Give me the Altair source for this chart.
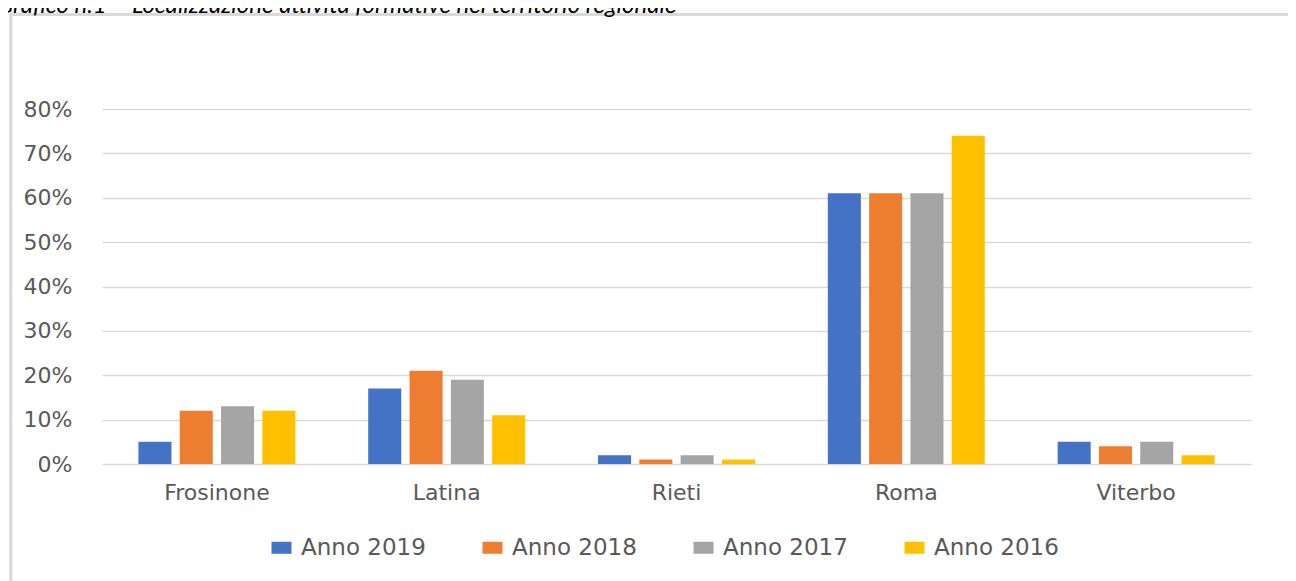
import altair as alt
import pandas as pd

provinces = ["Frosinone", "Latina", "Rieti", "Roma", "Viterbo"]
series = ["Anno 2019", "Anno 2018", "Anno 2017", "Anno 2016"]
anno_2019 = [0.05, 0.17, 0.02, 0.61, 0.05]
anno_2018 = [0.12, 0.21, 0.01, 0.61, 0.04]
anno_2017 = [0.13, 0.19, 0.02, 0.61, 0.05]
anno_2016 = [0.12, 0.11, 0.01, 0.74, 0.02]
colors = ["#4472C4", "#ED7D31", "#A5A5A5", "#FFC000"]
y_ticks = [0.0, 0.1, 0.2, 0.3, 0.4, 0.5, 0.6, 0.7, 0.8]
title_text = "Grafico n.1 – Localizzazione attività formative nel territorio regionale"

rows = []
for s, vals in zip(series, [anno_2019, anno_2018, anno_2017, anno_2016]):
    for p, v in zip(provinces, vals):
        rows.append({"Provincia": p, "Serie": s, "Valore": v})
df = pd.DataFrame(rows)

one = pd.DataFrame({"t": [title_text]})

bars = alt.Chart(df).mark_bar().encode(
    x=alt.X("Provincia:N", sort=provinces, title=None,
            scale=alt.Scale(paddingInner=0.317, paddingOuter=0.1585),
            axis=alt.Axis(labelAngle=0, ticks=False, domain=False, labelFontSize=22,
                          labelColor="#595959", labelFont="DejaVu Sans", labelPadding=18)),
    xOffset=alt.XOffset("Serie:N", sort=series,
                        scale=alt.Scale(paddingInner=0.2, paddingOuter=0)),
    y=alt.Y("Valore:Q", title=None,
            scale=alt.Scale(domain=[0, 0.8], nice=False),
            axis=alt.Axis(values=y_ticks, format=".0%", ticks=False, domain=False,
                          labelFontSize=22, labelColor="#595959", labelFont="DejaVu Sans",
                          labelPadding=30, gridColor="#d9d9d9", gridWidth=1.5)),
    color=alt.Color("Serie:N", sort=series,
                    scale=alt.Scale(domain=series, range=colors),
                    legend=alt.Legend(title=None, orient="none", direction="horizontal",
                                      legendX=168, legendY=427,
                                      symbolType="M-1,-0.6H1V0.6H-1Z", symbolSize=400,
                                      symbolStrokeWidth=0, labelFontSize=23,
                                      labelFont="DejaVu Sans", labelColor="#595959",
                                      labelOffset=8, columnPadding=55)),
)

frame = alt.Chart(one).mark_rect(fill="transparent", stroke="#d9d9d9", strokeWidth=3).encode(
    x=alt.value(-91.2), x2=alt.value(1300), y=alt.value(-94.5), y2=alt.value(700)
)

title = alt.Chart(one).mark_text(align="left", baseline="alphabetic", font="Lato",
                                 fontStyle="italic", fontSize=24, color="#000000").encode(
    x=alt.value(-105), y=alt.value(-96), text="t:N"
)

chart = alt.layer(frame, bars, title).properties(
    width=1149, height=355,
    autosize=alt.AutoSizeParams(type="none"),
    padding={"left": 94, "top": 101, "right": 37, "bottom": 117},
).configure_view(stroke="transparent")

chart.save("out.html", embed_options={"renderer": "svg", "actions": False})
